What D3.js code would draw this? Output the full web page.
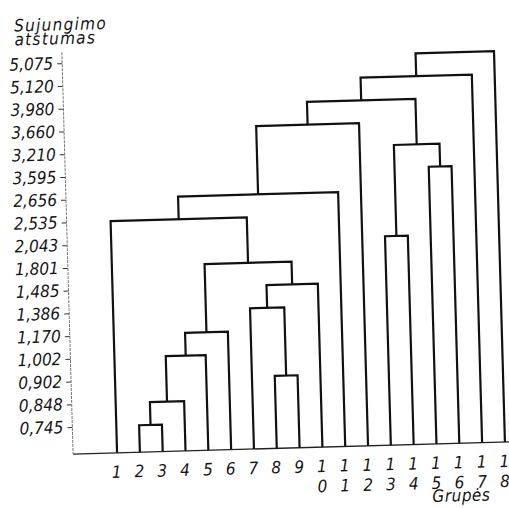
<!DOCTYPE html>
<html>
<head>
<meta charset="utf-8">
<script src="https://cdn.jsdelivr.net/npm/d3@7"></script>
<style>
  body { margin: 0; background: #fff; }
  svg text {
    font-family: "DejaVu Sans Condensed", "Liberation Sans Narrow", "DejaVu Sans", sans-serif;
    font-style: italic;
    font-stretch: condensed;
    fill: #151515;
  }
</style>
</head>
<body>
<svg></svg>
<script>
// groups (leaves) along the bottom
var groups = d3.range(1, 19);

// merge distances as printed on the axis, bottom to top
var heights = ['0,745', '0,848', '0,902', '1,002', '1,170', '1,386', '1,485', '1,801', '2,043',
               '2,535', '2,656', '3,595', '3,210', '3,660', '3,980', '5,120', '5,075'];

// joins in order: [left, right, distance]; 'cN' is the N-th join
var joins = [
  [2, 3, '0,745'],
  ['c1', 4, '0,848'],
  [8, 9, '0,902'],
  ['c2', 5, '1,002'],
  ['c4', 6, '1,170'],
  [7, 'c3', '1,386'],
  ['c6', 10, '1,485'],
  ['c5', 'c7', '1,801'],
  [13, 14, '2,043'],
  [1, 'c8', '2,535'],
  ['c10', 11, '2,656'],
  [15, 16, '3,595'],
  ['c9', 'c12', '3,210'],
  ['c11', 12, '3,660'],
  ['c14', 'c13', '3,980'],
  ['c15', 17, '5,120'],
  ['c16', 18, '5,075']
];

var titleLines = ['Sujungimo', 'atstumas'];
var xTitle = 'Grupės';

// 0. svg, the scan is a little tilted so the whole drawing is too
var svgWidth = 509;
var svgHeight = 508;
var svg = d3.select('svg')
    .attr('width', svgWidth)
    .attr('height', svgHeight);

var g = svg.append('g')
    .attr('transform', 'rotate(-1.6,290,448)');

var baseY = 448;
var axisX = 73;

// 1. scales
var x = d3.scalePoint()
    .domain(groups)
    .range([117, 505]);

var y = d3.scalePoint()
    .domain(heights)
    .range([421, 57]);

// 2. node positions + links
var pos = {};
groups.forEach(function(d) { pos[d] = {x: x(d), y: baseY}; });

var links = [];
joins.forEach(function(j, i) {
    var a = pos[j[0]], b = pos[j[1]], h = y(j[2]);
    links.push({a: a, b: b, h: h});
    pos['c' + (i + 1)] = {x: (a.x + b.x) / 2, y: h};
});

// 3. baseline
g.append('line')
    .attr('x1', axisX).attr('x2', 520)
    .attr('y1', baseY).attr('y2', baseY)
    .attr('stroke', '#222')
    .attr('stroke-width', 1.3);

// 4. dendrogram
g.selectAll('.link')
    .data(links)
    .enter()
    .append('path')
    .attr('class', 'link')
    .attr('d', d => 'M' + d.a.x + ',' + d.a.y + 'V' + d.h + 'H' + d.b.x + 'V' + d.b.y)
    .attr('fill', 'none')
    .attr('stroke', '#111')
    .attr('stroke-width', 2.2)
    .attr('stroke-linejoin', 'miter');

// 5. y axis
var yAxis = g.append('g')
    .attr('transform', 'translate(' + axisX + ',0)')
    .call(d3.axisLeft(y).tickSize(5).tickPadding(4));

yAxis.select('.domain').remove();
yAxis.selectAll('.tick line').attr('stroke', '#333');
yAxis.selectAll('.tick text')
    .attr('font-size', 17)
    .attr('fill', '#151515');

g.append('line')
    .attr('x1', axisX).attr('x2', axisX)
    .attr('y1', 46).attr('y2', baseY)
    .attr('stroke', '#777')
    .attr('stroke-width', 1)
    .attr('stroke-dasharray', '3,1');

// 6. group labels, two digit numbers written one digit under another
var labels = g.selectAll('.leaf')
    .data(groups)
    .enter()
    .append('text')
    .attr('class', 'leaf')
    .attr('font-size', 17)
    .attr('text-anchor', 'middle');

labels.selectAll('tspan')
    .data(d => String(d).split('').map(c => ({c: c, x: x(d)})))
    .enter()
    .append('tspan')
    .attr('x', d => d.x - 1)
    .attr('y', (d, i) => i === 0 ? 473 : 493)
    .text(d => d.c);

// 7. titles
g.append('text')
    .attr('font-size', 17)
    .attr('letter-spacing', 1.3)
    .selectAll('tspan')
    .data(titleLines)
    .enter()
    .append('tspan')
    .attr('x', 26)
    .attr('y', (d, i) => 24 + i * 14)
    .text(d => d);

g.append('text')
    .attr('x', 431)
    .attr('y', 506)
    .attr('font-size', 17)
    .attr('letter-spacing', 0.5)
    .text(xTitle);
</script>
</body>
</html>
